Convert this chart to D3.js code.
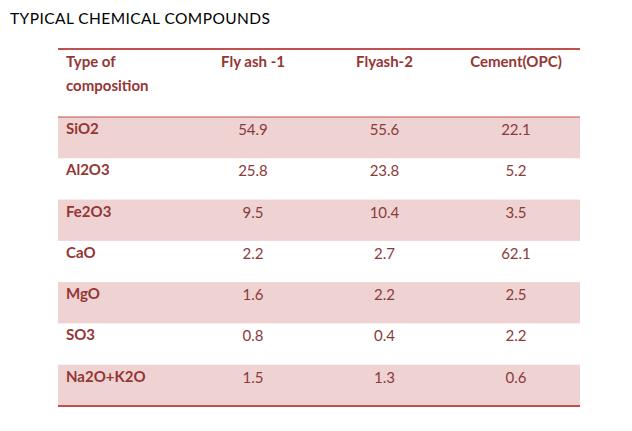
<!DOCTYPE html>
<html>
<head>
<meta charset="utf-8">
<script src="https://cdn.jsdelivr.net/npm/d3@7"></script>
<style>
  body { margin: 0; background: #fff; }
  svg text { font-family: Lato, "Open Sans", sans-serif; }
</style>
</head>
<body>
<div id="chart"></div>
<script>
/* ── typical chemical compounds table ───────────────────────── */

const TITLE     = 'TYPICAL CHEMICAL COMPOUNDS';
const COLUMNS   = ['Fly ash -1', 'Flyash-2', 'Cement(OPC)'];
const COMPOUNDS = ['SiO2', 'Al2O3', 'Fe2O3', 'CaO', 'MgO', 'SO3', 'Na2O+K2O'];
const FLYASH_1  = ['54.9', '25.8', '9.5', '2.2', '1.6', '0.8', '1.5'];
const FLYASH_2  = ['55.6', '23.8', '10.4', '2.7', '2.2', '0.4', '1.3'];
const CEMENT    = ['22.1', '5.2', '3.5', '62.1', '2.5', '2.2', '0.6'];

const W = 632, H = 431;
const TL = 58, TR = 580;            // table left / right
const TOP = 49, HEAD_B = 117, BOT = 406;

const RED   = '#c0504d';
const DARK  = '#943634';
const PINK  = '#efd3d3';
const FS    = 15;

const svg = d3.select('#chart').append('svg')
  .attr('width', W).attr('height', H);

svg.append('text')
  .attr('x', 10).attr('y', 24)
  .attr('font-size', 15.5).attr('fill', '#000')
  .attr('textLength', 260).attr('lengthAdjust', 'spacing')
  .text(TITLE);

// ── scales ───────────────────────────────────────────────────
const y = d3.scaleBand().domain(COMPOUNDS).range([HEAD_B, BOT]);
const x = d3.scalePoint().domain(COLUMNS).range([253, 516]);

const rows = COMPOUNDS.map((c, i) => ({
  name: c, vals: [FLYASH_1[i], FLYASH_2[i], CEMENT[i]], i
}));

// ── row bands ────────────────────────────────────────────────
svg.selectAll('.band').data(rows.filter(d => d.i % 2 === 0)).enter()
  .append('rect')
  .attr('x', TL).attr('width', TR - TL)
  .attr('y', d => y(d.name)).attr('height', y.bandwidth())
  .attr('fill', PINK);

// ── header ───────────────────────────────────────────────────
const head = svg.append('g').attr('font-weight', 700)
  .attr('font-size', FS).attr('fill', DARK);

head.append('text').attr('x', 66).attr('y', 67).text('Type of');
head.append('text').attr('x', 66).attr('y', 91).text('composition');

head.selectAll('.col').data(COLUMNS).enter().append('text')
  .attr('x', d => x(d)).attr('y', 67)
  .attr('text-anchor', 'middle')
  .text(d => d);

// ── body ─────────────────────────────────────────────────────
const g = svg.selectAll('.row').data(rows).enter().append('g')
  .attr('transform', d => `translate(0,${y(d.name)})`);

g.append('text')
  .attr('x', 66).attr('y', 17)
  .attr('font-weight', 700).attr('font-size', FS).attr('fill', DARK)
  .text(d => d.name);

g.selectAll('.val').data(d => d.vals).enter().append('text')
  .attr('x', (_, j) => x(COLUMNS[j])).attr('y', 18)
  .attr('text-anchor', 'middle')
  .attr('font-size', FS).attr('fill', '#8b3a3a')
  .text(d => d);

// ── rules ────────────────────────────────────────────────────
svg.append('line').attr('x1', TL).attr('x2', TR).attr('y1', TOP).attr('y2', TOP)
  .attr('stroke', RED).attr('stroke-width', 2);
svg.append('line').attr('x1', TL).attr('x2', TR).attr('y1', HEAD_B).attr('y2', HEAD_B)
  .attr('stroke', RED).attr('stroke-width', 1);
svg.append('line').attr('x1', TL).attr('x2', TR).attr('y1', BOT).attr('y2', BOT)
  .attr('stroke', RED).attr('stroke-width', 2);
</script>
</body>
</html>
